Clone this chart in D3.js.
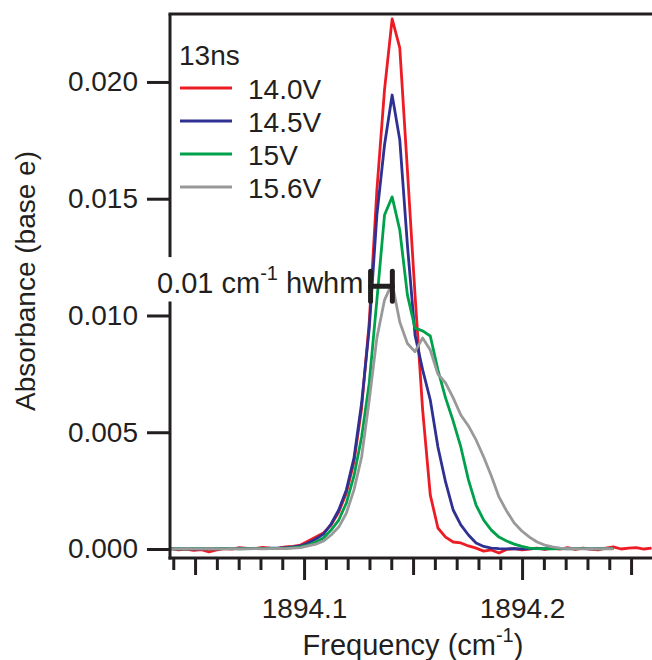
<!DOCTYPE html>
<html>
<head>
<meta charset="utf-8">
<script src="https://cdn.jsdelivr.net/npm/d3@7"></script>
<style>
  html, body { margin: 0; padding: 0; background: #fff; }
  text { font-family: "Liberation Sans", Arial, Helvetica, sans-serif; fill: #231f20; }
</style>
</head>
<body>
<script>
// ---------- data ----------
const freq = [
  1894.0389, 1894.0424, 1894.0459, 1894.0494, 1894.0529, 1894.0564, 1894.0599, 1894.0634,
  1894.0669, 1894.0704, 1894.0739, 1894.0774, 1894.0809, 1894.0844, 1894.0879, 1894.0914,
  1894.0949, 1894.0984, 1894.1019, 1894.1054, 1894.1089, 1894.1124, 1894.1159, 1894.1194,
  1894.1229, 1894.1264, 1894.1299, 1894.1334, 1894.1369, 1894.1404, 1894.1439, 1894.1474,
  1894.1509, 1894.1544, 1894.1579, 1894.1614, 1894.1649, 1894.1684, 1894.1719, 1894.1754,
  1894.1789, 1894.1824, 1894.1859, 1894.1894, 1894.1929, 1894.1964, 1894.1999, 1894.2034,
  1894.2069, 1894.2104, 1894.2139, 1894.2174, 1894.2209, 1894.2244, 1894.2279, 1894.2314,
  1894.2349, 1894.2384, 1894.2419, 1894.2454, 1894.2489, 1894.2524, 1894.2559, 1894.2594
];

const v140 = [
  0.00002, -0.00004, 0.00000, -0.00006, -0.00003, -0.00012, -0.00004, 0.00002,
  0.00000, 0.00006, 0.00003, 0.00002, 0.00007, 0.00004, 0.00003,
  0.00009, 0.00011, 0.00017, 0.00034, 0.00051, 0.00069, 0.00103, 0.00158, 0.00240,
  0.00373, 0.00604, 0.00972, 0.01537, 0.01966,
  0.02270,
  0.02146, 0.01623, 0.01088, 0.00595, 0.00231, 0.00090, 0.00051, 0.00030, 0.00026,
  0.00013, 0.00004, -0.00009, -0.00004, -0.00017, -0.00002, 0.00002, -0.00004, 0.00000,
  0.00004, -0.00002, 0.00004, 0.00000, 0.00006, -0.00002, 0.00004, 0.00000, -0.00004,
  0.00004, 0.00009, 0.00000, 0.00004, 0.00006, 0.00000, 0.00004
];

const v145 = [
  0.00002, 0.00001, 0.00002, 0.00000, 0.00001, 0.00002, 0.00001, 0.00002,
  0.00002, 0.00003, 0.00002, 0.00003, 0.00003, 0.00004, 0.00004,
  0.00006, 0.00009, 0.00013, 0.00026, 0.00043, 0.00064, 0.00107, 0.00167, 0.00253,
  0.00390, 0.00625, 0.00946, 0.01430, 0.01730,
  0.01944,
  0.01752, 0.01302, 0.00916, 0.00767, 0.00638, 0.00437, 0.00287, 0.00167, 0.00103,
  0.00060, 0.00026, 0.00011, 0.00004, 0.00002, 0.00001, 0.00002, 0.00001, 0.00002,
  0.00002, 0.00001, 0.00002, 0.00002, 0.00001, 0.00002, 0.00002, 0.00001, 0.00002,
  0.00002, 0.00002
];

const v150 = [
  0.00001, 0.00002, 0.00001, 0.00002, 0.00002, 0.00001, 0.00002, 0.00002,
  0.00002, 0.00001, 0.00002, 0.00002, 0.00002, 0.00003, 0.00003,
  0.00004, 0.00006, 0.00009, 0.00017, 0.00030, 0.00047, 0.00081, 0.00124, 0.00197,
  0.00313, 0.00480, 0.00711, 0.01066, 0.01430,
  0.01508,
  0.01366, 0.01088, 0.00946, 0.00934, 0.00912, 0.00767, 0.00647, 0.00548, 0.00437,
  0.00296, 0.00188, 0.00124, 0.00081, 0.00051, 0.00034, 0.00021, 0.00011, 0.00004,
  0.00002, 0.00002, 0.00001, 0.00002, 0.00002, 0.00001, 0.00002, 0.00002, 0.00001,
  0.00002, 0.00002
];

const v156 = [
  0.00001, 0.00001, 0.00002, 0.00001, 0.00001, 0.00002, 0.00001, 0.00001,
  0.00002, 0.00001, 0.00001, 0.00002, 0.00001, 0.00002, 0.00002,
  0.00002, 0.00004, 0.00006, 0.00013, 0.00021, 0.00034, 0.00060, 0.00094, 0.00154,
  0.00253, 0.00394, 0.00638, 0.00904, 0.01066,
  0.01139,
  0.00972, 0.00880, 0.00845, 0.00904, 0.00852, 0.00749, 0.00711, 0.00647, 0.00574,
  0.00527, 0.00467, 0.00394, 0.00313, 0.00223, 0.00163, 0.00111, 0.00077, 0.00051,
  0.00030, 0.00017, 0.00009, 0.00004, 0.00002, 0.00002, 0.00001, 0.00002, 0.00001,
  0.00002, 0.00001
];

const seriesNames  = ["14.0V", "14.5V", "15V", "15.6V"];
const seriesValues = [v140, v145, v150, v156];
const seriesColors = ["#ed1c24", "#2e3192", "#00a14b", "#999999"];
const legendTitle  = "13ns";

const yTicks       = [0, 0.005, 0.010, 0.015, 0.020];
const xMajorTicks  = [1894.1, 1894.2];
const xMediumTicks = [1894.05, 1894.15, 1894.25];
const xMinorTicks  = [1894.04, 1894.06, 1894.07, 1894.08, 1894.09, 1894.11, 1894.12, 1894.13,
                      1894.14, 1894.16, 1894.17, 1894.18, 1894.19, 1894.21, 1894.22, 1894.23, 1894.24];
const hwhmBar      = [1894.1305, 1894.1405];
const hwhmValue    = 0.01125;
const yBreak       = [0.0106, 0.0125];

// ---------- layout ----------
const W = 652, H = 660;
const mL = 170, mR = 652, mT = 14, mB = 558;
const ink = "#231f20";
const fs = 28;

const x = d3.scaleLinear().domain([1894.0385, 1894.2596]).range([mL, mR]);
const y = d3.scaleLinear().domain([-0.000385, 0.02291]).range([mB, mT]);

const svg = d3.select("body").append("svg")
  .attr("width", W).attr("height", H);

// ---------- series ----------
const line = d3.line().x(d => x(d[0])).y(d => y(d[1]));
const plot = svg.append("g");
seriesValues.forEach((vals, s) => {
  const pts = vals.map((v, i) => [freq[i], v]);
  plot.append("path")
    .datum(pts)
    .attr("fill", "none")
    .attr("stroke", seriesColors[s])
    .attr("stroke-width", 2.8)
    .attr("stroke-linejoin", "round")
    .attr("d", line);
});

// ---------- axes ----------
svg.append("line")
  .attr("x1", mL - 1.5).attr("x2", mR).attr("y1", mT).attr("y2", mT)
  .attr("stroke", ink).attr("stroke-width", 3);

svg.append("line")
  .attr("x1", mL).attr("x2", mL).attr("y1", mT).attr("y2", y(yBreak[1]))
  .attr("stroke", ink).attr("stroke-width", 3);
svg.append("line")
  .attr("x1", mL).attr("x2", mL).attr("y1", y(yBreak[0])).attr("y2", mB + 1.5)
  .attr("stroke", ink).attr("stroke-width", 3);

const yAxis = d3.axisLeft(y).tickValues(yTicks).tickFormat(d3.format(".3f"))
  .tickSize(23).tickPadding(9).tickSizeOuter(0);
const gy = svg.append("g").attr("transform", `translate(${mL},0)`).call(yAxis);
gy.select(".domain").remove();
gy.selectAll(".tick line").attr("stroke", ink).attr("stroke-width", 3);
gy.selectAll(".tick text").attr("font-size", fs).attr("fill", ink)
  .style("font-family", "'Liberation Sans', Arial, sans-serif");

svg.append("line")
  .attr("x1", mL - 1.5).attr("x2", mR).attr("y1", mB).attr("y2", mB)
  .attr("stroke", ink).attr("stroke-width", 3);

function xTickLayer(vals, len, labels) {
  const ax = d3.axisBottom(x).tickValues(vals).tickSize(len).tickSizeOuter(0)
    .tickPadding(18).tickFormat(labels ? d3.format(".1f") : () => "");
  const g = svg.append("g").attr("transform", `translate(0,${mB})`).call(ax);
  g.select(".domain").remove();
  g.selectAll(".tick line").attr("stroke", ink).attr("stroke-width", 3);
  g.selectAll(".tick text").attr("font-size", fs).attr("fill", ink)
    .style("font-family", "'Liberation Sans', Arial, sans-serif");
  return g;
}
xTickLayer(xMinorTicks, 12, false);
xTickLayer(xMediumTicks, 17, false);
xTickLayer(xMajorTicks, 22, true);

const xt = svg.append("text")
  .attr("x", 413).attr("y", 655)
  .attr("text-anchor", "middle").attr("font-size", 29);
xt.append("tspan").text("Frequency (cm");
xt.append("tspan").attr("font-size", 20).attr("dy", -13).text("-1");
xt.append("tspan").attr("dy", 13).text(")");

svg.append("text")
  .attr("transform", "translate(35,281) rotate(-90)")
  .attr("text-anchor", "middle").attr("font-size", fs)
  .text("Absorbance (base e)");

// ---------- legend ----------
const lg = svg.append("g");
lg.append("text").attr("x", 179).attr("y", 65).attr("font-size", fs).text(legendTitle);
seriesNames.forEach((name, i) => {
  const yy = 88 + i * 33;
  lg.append("line")
    .attr("x1", 180).attr("x2", 232).attr("y1", yy).attr("y2", yy)
    .attr("stroke", seriesColors[i]).attr("stroke-width", 3);
  lg.append("text").attr("x", 248).attr("y", yy + 11).attr("font-size", fs).text(name);
});

// ---------- hwhm annotation ----------
const hy = y(hwhmValue);
const ann = svg.append("text").attr("x", 157).attr("y", hy + 7).attr("font-size", 29);
ann.append("tspan").text("0.01 cm");
ann.append("tspan").attr("font-size", 20).attr("dy", -13).text("-1");
ann.append("tspan").attr("dy", 13).text(" hwhm");

const hb = svg.append("g").attr("stroke", ink).attr("stroke-width", 5).attr("stroke-linecap", "round");
hb.append("line").attr("x1", x(hwhmBar[0])).attr("x2", x(hwhmBar[1])).attr("y1", hy).attr("y2", hy);
hb.append("line").attr("x1", x(hwhmBar[0])).attr("x2", x(hwhmBar[0])).attr("y1", hy - 15).attr("y2", hy + 15);
hb.append("line").attr("x1", x(hwhmBar[1])).attr("x2", x(hwhmBar[1])).attr("y1", hy - 15).attr("y2", hy + 15);
</script>
</body>
</html>
